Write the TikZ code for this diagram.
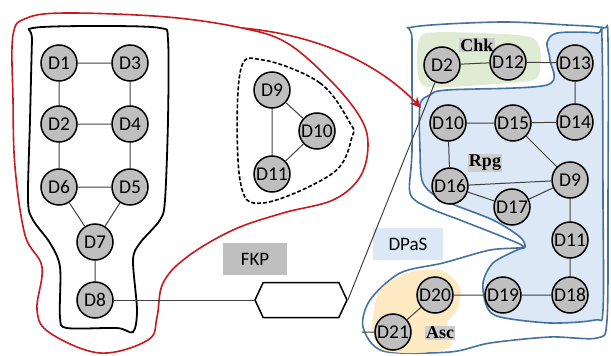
\documentclass[tikz,border=0pt]{standalone}
\usepackage{fontspec}
\setmainfont{Carlito}
\newfontfamily\tagfont{Liberation Serif}
\usetikzlibrary{arrows.meta, shapes.symbols}

\definecolor{devgray}{RGB}{191, 191, 191}
\definecolor{tagray}{RGB}{205, 205, 205}
\definecolor{loopred}{RGB}{200, 25, 30}
\definecolor{zoneblue}{RGB}{68, 114, 160}
\definecolor{rpgfill}{RGB}{220, 232, 245}
\definecolor{chkfill}{RGB}{223, 236, 211}
\definecolor{ascfill}{RGB}{253, 234, 195}

\begin{document}
\begin{tikzpicture}[x=1pt, y=-1pt,
    dev/.style={circle, draw, line width=1.5pt, fill=devgray, minimum size=36pt,
      inner sep=0pt, font=\fontsize{19.5}{19.5}\selectfont},
    link/.style={draw=black!75, line width=1pt},
    zone/.style={draw=zoneblue, line width=1.6pt},
    tag/.style={fill=tagray, inner sep=1pt, font=\tagfont\bfseries\fontsize{18}{18}\selectfont},
    labelbox/.style={inner sep=0pt, minimum width=64pt, minimum height=32pt,
      font=\fontsize{19}{19}\selectfont}]
    \useasboundingbox (0, 0) rectangle (611, 356);

    % red group around the FKP side
    \draw [loopred, line width=1.6pt] plot [smooth cycle, tension=0.6] coordinates {
      (27, 18) (67, 13) (167, 17) (242, 28) (287, 43) (330, 80) (360, 117)
      (368, 145) (360, 177) (333, 200) (283, 213) (233, 230) (187, 257)
      (163, 283) (157, 317) (148, 340) (100, 353) (50, 333) (37, 310)
      (42, 267) (25, 235) (15, 167) (13, 100) (13, 35)};

    % black group
    \draw [line width=1.8pt] plot [smooth cycle, tension=0.5] coordinates {
      (33, 28) (100, 26) (160, 28) (168, 40) (168, 120) (165, 200) (160, 220)
      (140, 243) (133, 260) (137, 310) (133, 332) (117, 328) (67, 328)
      (60, 317) (60, 267) (50, 243) (33, 220) (28, 200) (30, 120) (32, 40)};

    % dashed group
    \draw [dash pattern=on 4pt off 2pt, line width=1.6pt] plot [smooth cycle, tension=0.6]
      coordinates {(263, 60) (320, 83) (350, 123) (352, 137) (333, 173)
      (263, 203) (240, 180) (240, 73)};

    % DPaS side
    \draw [zone, fill=white] plot [smooth cycle, tension=0.5] coordinates {
      (413, 27) (500, 22) (567, 25) (603, 28) (608, 40) (608, 200) (607, 320)
      (597, 338) (550, 337) (490, 343) (450, 352) (383, 351) (363, 327)
      (370, 300) (400, 273) (443, 263) (490, 250) (523, 247) (503, 237)
      (460, 220) (427, 207) (410, 193) (412, 150) (412, 40)};
    \draw [zone, fill=rpgfill] plot [smooth cycle, tension=0.5] coordinates {
      (547, 43) (557, 33) (597, 33) (602, 40) (603, 200) (603, 310) (595, 320)
      (550, 323) (500, 317) (487, 307) (483, 283) (493, 263) (517, 250)
      (525, 247) (520, 237) (493, 220) (443, 200) (423, 183) (420, 150)
      (420, 105) (430, 95) (447, 90) (547, 85) (550, 60)};
    \fill [chkfill] plot [smooth cycle, tension=0.5] coordinates {
      (427, 33) (480, 33) (530, 37) (540, 50) (540, 67) (533, 80) (480, 85)
      (427, 87) (418, 73) (418, 45)};
    \fill [ascfill] plot [smooth cycle, tension=0.5] coordinates {
      (373, 317) (380, 290) (407, 273) (440, 270) (460, 287) (457, 310)
      (447, 323) (450, 347) (417, 353) (383, 350) (373, 333)};

    % red arrow into DPaS
    \draw [loopred, line width=1.6pt, -{Stealth[length=11pt, width=10pt]}]
      (242, 28) .. controls (320, 35) and (380, 65) .. (421, 108);

    \node [labelbox, fill=devgray] (fkp) at (255, 259) {FKP};
    \node [labelbox, fill=rpgfill, minimum width=70pt] (dpas) at (408, 244) {DPaS};
    \node [signal, signal to=west and east, signal pointer angle=130, draw,
      line width=1.5pt, minimum width=92pt, minimum height=35pt, inner sep=0pt]
      (gate) at (301, 300) {};

    \node [tag] (chk) at (477, 45) {Chk};
    \node [tag] (rpg) at (485, 163) {Rpg};
    \node [tag] (asc) at (440, 333) {Asc};

    % FKP side
    \node [dev] (f1) at (59, 63) {D1};
    \node [dev] (f3) at (130, 63) {D3};
    \node [dev] (f2) at (59, 124) {D2};
    \node [dev] (f4) at (130, 124) {D4};
    \node [dev] (f6) at (59, 187) {D6};
    \node [dev] (f5) at (130, 187) {D5};
    \node [dev] (f7) at (95, 242) {D7};
    \node [dev] (f8) at (95, 300) {D8};
    \node [dev] (f9) at (272, 90) {D9};
    \node [dev] (f10) at (317, 131) {D10};
    \node [dev] (f11) at (272, 174) {D11};

    % DPaS side
    \node [dev] (p2) at (442, 65) {D2};
    \node [dev] (p12) at (508, 62) {D12};
    \node [dev] (p13) at (575, 63) {D13};
    \node [dev] (p10) at (448, 123) {D10};
    \node [dev] (p15) at (513, 123) {D15};
    \node [dev] (p14) at (575, 122) {D14};
    \node [dev] (p16) at (450, 186) {D16};
    \node [dev] (p9) at (570, 180) {D9};
    \node [dev] (p17) at (512, 207) {D17};
    \node [dev] (p11) at (570, 240) {D11};
    \node [dev] (p20) at (435, 295) {D20};
    \node [dev] (p19) at (503, 295) {D19};
    \node [dev] (p18) at (570, 295) {D18};
    \node [dev] (p21) at (393, 332) {D21};
    \coordinate (inlet) at (362, 332);

    \draw [link] (f1) -- (f3) (f1) -- (f2) (f3) -- (f4) (f2) -- (f4)
      (f2) -- (f6) (f4) -- (f5) (f6) -- (f5) (f6) -- (f7) (f5) -- (f7)
      (f7) -- (f8);
    \draw [link] (f9) -- (f10) (f9) -- (f11) (f10) -- (f11);
    \draw [link] (f8) -- (gate.west);
    \draw [link] (gate.east) -- (p2);

    \draw [link] (p2) -- (p12) (p12) -- (p13) (p13) -- (p14) (p10) -- (p15)
      (p15) -- (p14) (p10) -- (p16) (p15) -- (p9) (p16) -- (p9)
      (p16) -- (p17) (p17) -- (p9) (p9) -- (p11) (p11) -- (p18)
      (p18) -- (p19) (p19) -- (p20) (p20) -- (p21) (inlet) -- (p21);
  \end{tikzpicture}
\end{document}
